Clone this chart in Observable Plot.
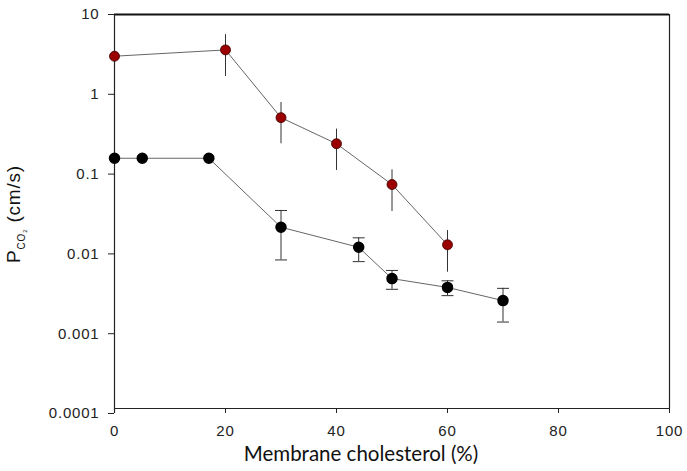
<!DOCTYPE html>
<html>
<head>
<meta charset="utf-8">
<script src="https://cdn.jsdelivr.net/npm/d3@7"></script>
<script src="https://cdn.jsdelivr.net/npm/@observablehq/plot@0.6"></script>
<style>
  html, body { margin: 0; padding: 0; background: #fff; }
  #chart svg { display: block; }
  #chart svg text { font-family: "Liberation Sans", Arial, sans-serif; }
</style>
</head>
<body>
<div id="chart"></div>
<script>
// Red series (upper)
const xRed = [0, 20, 30, 40, 50, 60];
const yRed = [3.0, 3.6, 0.51, 0.24, 0.074, 0.013];
const redLo = [null, 1.67, 0.24, 0.111, 0.034, 0.0059];
const redHi = [null, 5.6, 0.79, 0.366, 0.113, 0.0196];

// Black series (lower)
const xBlack = [0, 5, 17, 30, 44, 50, 60, 70];
const yBlack = [0.158, 0.158, 0.158, 0.0216, 0.0121, 0.0049, 0.0038, 0.0026];
const blackLo = [null, null, null, 0.0084, 0.0080, 0.0036, 0.0030, 0.0014];
const blackHi = [null, null, null, 0.035, 0.0159, 0.0062, 0.0046, 0.0037];

// Axis ticks
const xTicks = [0, 20, 40, 60, 80, 100];
const yTicks = [10, 1, 0.1, 0.01, 0.001, 0.0001];
const yTickLabels = ["10", "1", "0.1", "0.01", "0.001", "0.0001"];

const red = xRed.map((x, i) => ({x, y: yRed[i], lo: redLo[i], hi: redHi[i]}));
const black = xBlack.map((x, i) => ({x, y: yBlack[i], lo: blackLo[i], hi: blackHi[i]}));
const redErr = red.filter(d => d.lo != null);
const blackErr = black.filter(d => d.lo != null);
const blackCaps = blackErr.flatMap(d => [{x: d.x, y: d.lo}, {x: d.x, y: d.hi}]);

const capSymbol = {
  draw(context) { context.moveTo(-6, 0); context.lineTo(6, 0); }
};

const chart = Plot.plot({
  width: 687,
  height: 471,
  marginLeft: 114,
  marginRight: 18,
  marginTop: 14,
  marginBottom: 58,
  style: {fontSize: "15px", color: "#222", background: "#fff", letterSpacing: "0.8px"},
  x: {domain: [0, 100]},
  y: {type: "log", domain: [0.0001, 10]},
  marks: [
    // frame
    Plot.ruleY([10], {stroke: "#111", strokeWidth: 2}),
    Plot.ruleX([100], {stroke: "#222", strokeWidth: 1.2, insetBottom: 5}),
    Plot.ruleX([0], {stroke: "#222", strokeWidth: 1.2}),
    Plot.ruleY([0.0001], {stroke: "#222", strokeWidth: 1.2, dy: -5}),
    Plot.axisY({ticks: yTicks, tickFormat: d => yTickLabels[yTicks.indexOf(d)], tickSize: 6, tickPadding: 9, label: null, stroke: "#222", fontSize: 15}),
    Plot.axisX({ticks: xTicks, tickSize: 5, tickPadding: 12, dy: -5, label: null, stroke: "#222", fontSize: 15}),
    // error bars
    Plot.ruleX(redErr, {x: "x", y1: "lo", y2: "hi", stroke: "#333", strokeWidth: 1}),
    Plot.ruleX(blackErr, {x: "x", y1: "lo", y2: "hi", stroke: "#333", strokeWidth: 1}),
    Plot.dot(blackCaps, {x: "x", y: "y", symbol: capSymbol, stroke: "#333", strokeWidth: 1, fill: "none"}),
    // lines
    Plot.line(red, {x: "x", y: "y", stroke: "#666", strokeWidth: 1}),
    Plot.line(black, {x: "x", y: "y", stroke: "#666", strokeWidth: 1}),
    // points
    Plot.dot(red, {x: "x", y: "y", r: 5, fill: "#9a0000", stroke: "#3a0000", strokeWidth: 0.8}),
    Plot.dot(black, {x: "x", y: "y", r: 5, fill: "#000", stroke: "#000"})
  ]
});

const svg = d3.select(chart);
// x-axis title
svg.append("text")
  .attr("x", 361)
  .attr("y", 461)
  .attr("text-anchor", "middle")
  .attr("style", "font-family: Lato, 'Open Sans', sans-serif; letter-spacing: 0px;")
  .attr("font-size", 20.5)
  .attr("fill", "#111")
  .text("Membrane cholesterol (%)");

// y-axis title with subscripts
const yt = svg.append("text")
  .attr("transform", "translate(20,214) rotate(-90)")
  .attr("text-anchor", "middle")
  .attr("fill", "#111")
  .attr("letter-spacing", "0.8px")
  .attr("font-size", 19);
yt.append("tspan").text("P");
yt.append("tspan").attr("font-size", 10).attr("dy", 5).text("CO");
yt.append("tspan").attr("font-size", 6).attr("dy", 2).text("2");
yt.append("tspan").attr("dy", -7).text(" (cm/s)");

document.getElementById("chart").appendChild(chart);
</script>
</body>
</html>
